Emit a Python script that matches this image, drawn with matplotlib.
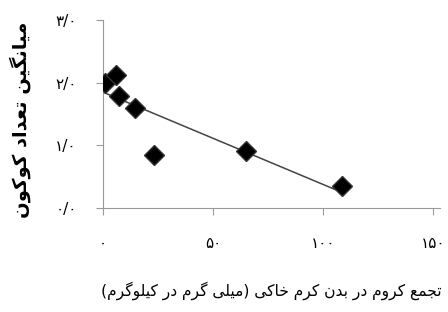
import numpy as np
import matplotlib
matplotlib.use("Agg")
import matplotlib.pyplot as plt

# data
chrome = [1.0, 6.0, 7.4, 14.5, 23.0, 65.0, 108.5]
cocoons = [2.0, 2.12, 1.78, 1.6, 0.85, 0.91, 0.36]

x_ticks = [0, 50, 100, 150]
x_tick_labels = ["۰", "۵۰", "۱۰۰", "۱۵۰"]
y_ticks = [0, 1, 2, 3]
y_tick_labels = ["۰/۰", "۱/۰", "۲/۰", "۳/۰"]

x_title = "تجمع کروم در بدن کرم خاکی (میلی گرم در کیلوگرم)"
y_title = "میانگین تعداد کوکون"

# arabic presentation forms: isolated, final, initial, medial
FORMS = {
    "ا": ("\uFE8D", "\uFE8E", None, None),
    "ب": ("\uFE8F", "\uFE90", "\uFE91", "\uFE92"),
    "ت": ("\uFE95", "\uFE96", "\uFE97", "\uFE98"),
    "ج": ("\uFE9D", "\uFE9E", "\uFE9F", "\uFEA0"),
    "خ": ("\uFEA5", "\uFEA6", "\uFEA7", "\uFEA8"),
    "د": ("\uFEA9", "\uFEAA", None, None),
    "ر": ("\uFEAD", "\uFEAE", None, None),
    "ع": ("\uFEC9", "\uFECA", "\uFECB", "\uFECC"),
    "ل": ("\uFEDD", "\uFEDE", "\uFEDF", "\uFEE0"),
    "م": ("\uFEE1", "\uFEE2", "\uFEE3", "\uFEE4"),
    "ن": ("\uFEE5", "\uFEE6", "\uFEE7", "\uFEE8"),
    "و": ("\uFEED", "\uFEEE", None, None),
    "ک": ("\uFB8E", "\uFB8F", "\uFB90", "\uFB91"),
    "گ": ("\uFB92", "\uFB93", "\uFB94", "\uFB95"),
    "ی": ("\uFBFC", "\uFBFD", "\uFBFE", "\uFBFF"),
}


def farsi(text):
    out = []
    for i, c in enumerate(text):
        if c not in FORMS:
            out.append(c)
            continue
        iso, fin, ini, med = FORMS[c]
        prev_j = i > 0 and text[i - 1] in FORMS and FORMS[text[i - 1]][2] is not None
        next_j = ini is not None and i + 1 < len(text) and text[i + 1] in FORMS
        if prev_j and next_j:
            out.append(med)
        elif prev_j:
            out.append(fin)
        elif next_j:
            out.append(ini)
        else:
            out.append(iso)
    swap = {"(": ")", ")": "("}
    return "".join(swap.get(c, c) for c in reversed(out))


plt.rcParams["font.family"] = ["DejaVu Sans"]

fig = plt.figure(figsize=(4.48, 3.12), dpi=100)
ax = fig.add_axes([0.23, 0.333, 0.752, 0.603])

ax.plot(chrome, cocoons, linestyle="none", marker="D", markersize=10,
        color="black", markeredgecolor="#333333", zorder=3)

k, b = np.polyfit(chrome, cocoons, 1)
xs = np.array([min(chrome), max(chrome)])
ax.plot(xs, k * xs + b, color="#444444", linewidth=1.1, zorder=2)

ax.set_xlim(0, 153)
ax.set_ylim(0, 3)
ax.set_xticks(x_ticks)
ax.set_xticklabels(x_tick_labels, fontsize=11)
ax.set_yticks(y_ticks)
ax.set_yticklabels(y_tick_labels, fontsize=11)

for side in ["top", "right"]:
    ax.spines[side].set_visible(False)
for side in ["left", "bottom"]:
    ax.spines[side].set_color("#999999")
ax.tick_params(axis="both", colors="#999999", labelcolor="black", length=5)
ax.tick_params(axis="x", pad=15)
ax.tick_params(axis="y", pad=14)

ax.set_xlabel(farsi(x_title), fontsize=11.2)
ax.xaxis.set_label_coords(0.5, -0.39)
ax.set_ylabel(farsi(y_title), fontsize=14, fontweight="bold")
ax.yaxis.set_label_coords(-0.215, 0.47)

fig.savefig("out.png", dpi=100)
